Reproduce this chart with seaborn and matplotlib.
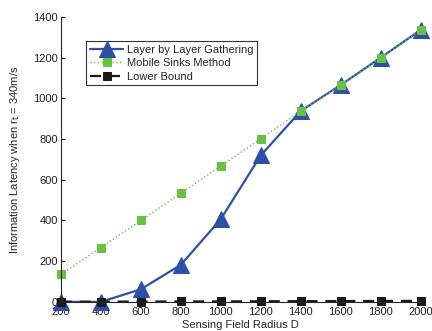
import numpy as np
import pandas as pd
import seaborn as sns
import matplotlib.pyplot as plt

radius = [200, 400, 600, 800, 1000, 1200, 1400, 1600, 1800, 2000]
layer_gathering = [0, 0, 62, 182, 407, 720, 938, 1066, 1200, 1336]
mobile_sinks = [135, 267, 400, 534, 668, 801, 938, 1066, 1200, 1336]
lower_bound = [0.5, 1, 1.5, 2, 2.5, 3, 3.5, 4, 4.5, 5]

sns.set_style("ticks")
plt.rcParams["font.family"] = ["Liberation Sans", "DejaVu Sans"]

df = pd.DataFrame({"D": radius, "layer": layer_gathering,
                   "mobile": mobile_sinks, "lower": lower_bound})

fig = plt.figure(figsize = (4.32, 3.31), dpi = 100)
ax = fig.add_axes([0.141, 0.088, 0.833, 0.861])

sns.lineplot(data = df, x = "D", y = "layer", ax = ax, color = "#2d4fa6", linewidth = 1.6,
             marker = "^", markersize = 11, markeredgecolor = "#2d4fa6",
             label = "Layer by Layer Gathering", clip_on = False)
sns.lineplot(data = df, x = "D", y = "mobile", ax = ax, color = "#68c044", linewidth = 1.0,
             linestyle = ":", marker = "s", markersize = 5.5, markeredgecolor = "#68c044",
             label = "Mobile Sinks Method", clip_on = False)
sns.lineplot(data = df, x = "D", y = "lower", ax = ax, color = "#1a1a1a", linewidth = 1.6,
             linestyle = (0, (5, 3.5)), marker = "s", markersize = 5.5, markeredgecolor = "#1a1a1a",
             label = "Lower Bound", clip_on = False)

ax.set_xlim(200, 2000)
ax.set_ylim(0, 1400)
ax.set_xticks(radius)
ax.set_yticks(np.arange(0, 1401, 200))
ax.tick_params(direction = "in", labelsize = 8, length = 3, colors = "#222222")
ax.tick_params(axis = "x", pad = 4)
ax.tick_params(axis = "y", pad = 2)
ax.set_xlabel("Sensing Field Radius D", fontsize = 8, labelpad = 2)
ax.set_ylabel(r"Information Latency when r$_\mathrm{t}$ = 340m/s", fontsize = 8, labelpad = 8)
sns.despine(ax = ax)

leg = ax.legend(loc = "upper left", bbox_to_anchor = (0.055, 0.935), fontsize = 8,
                frameon = True, fancybox = False, edgecolor = "black",
                handlelength = 3, borderpad = 0.35, labelspacing = 0.3, handletextpad = 0.3)
leg.get_frame().set_linewidth(0.8)

fig.savefig("out.png", dpi = 100)
